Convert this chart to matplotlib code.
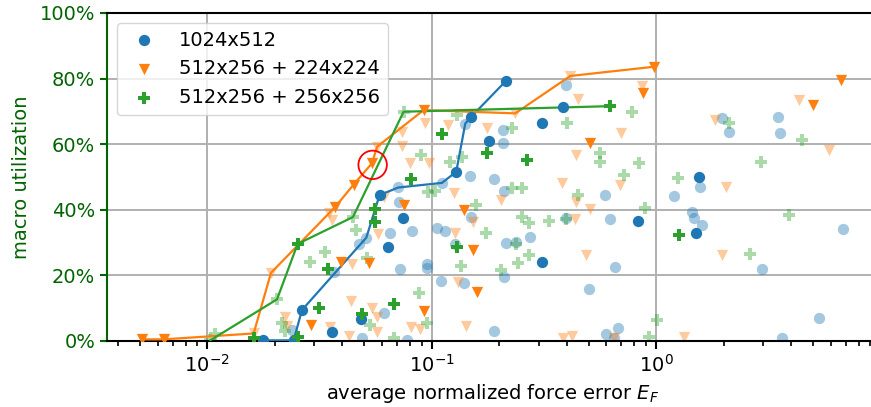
import matplotlib
matplotlib.use('Agg')
import matplotlib.pyplot as plt
from matplotlib.ticker import FuncFormatter

# ---------------- data ----------------
labels = ["1024x512", "512x256 + 224x224", "512x256 + 256x256"]

# series 1: 1024x512
blue_front_x = [0.0177, 0.02423, 0.02641, 0.05108, 0.05853, 0.07094, 0.1110, 0.1285, 0.1410, 0.1500, 0.2147]
blue_front_y = [0.2, 0.2, 9.45, 31.5, 44.5, 46.8, 48.2, 51.6, 66.3, 68.4, 79.4]
blue_dark_x = [0.0177, 0.02423, 0.02641, 0.05853, 0.1285, 0.1500, 0.2147, 0.3097, 0.384, 0.1804,
               0.0744, 0.0636, 0.3097, 0.0484, 0.0359, 1.543, 0.8286, 1.502]
blue_dark_y = [0.2, 0.2, 9.45, 44.5, 51.6, 68.4, 79.4, 66.4, 71.2, 61.1,
               37.4, 28.8, 24.2, 6.6, 2.8, 50.1, 36.6, 32.8]
blue_faded_x = [0.02391, 0.03652, 0.04719, 0.05108, 0.04903, 0.06098, 0.06535, 0.07094, 0.07115, 0.07188,
                0.07753, 0.0816, 0.09519, 0.09519, 0.1058, 0.1145, 0.1094, 0.1263, 0.1410, 0.1484,
                0.1495, 0.1395, 0.1885, 0.1898, 0.2076, 0.2076, 0.2097, 0.2147, 0.2379, 0.2104,
                0.2732, 0.3945, 0.3973, 0.4994, 0.5927, 0.6237, 0.6567, 0.5957, 0.6737, 0.6500,
                1.194, 1.570, 1.442, 1.477, 1.598, 1.962, 2.099, 3.470, 3.567, 6.785,
                2.957, 5.295, 3.630, 0.1110]
blue_faded_y = [3.35, 21.1, 29.6, 31.5, 0.9, 8.4, 32.8, 46.8, 42.5, 21.9,
                0.3, 33.6, 23.6, 22.2, 34.5, 33.6, 18.3, 29.6, 66.3, 50.3,
                37.9, 17.8, 49.4, 3.2, 64.2, 60.4, 45.7, 30.0, 30.2, 19.5,
                31.8, 37.5, 78.0, 15.8, 44.5, 37.3, 22.6, 2.1, 3.9, 0.8,
                44.2, 46.9, 39.2, 37.4, 35.4, 67.9, 63.8, 68.4, 63.3, 34.0,
                21.9, 6.9, 0.8, 48.2]

# series 2: 512x256 + 224x224
orange_front_x = [0.005119, 0.006388, 0.01608, 0.01922, 0.03717, 0.04484, 0.05416, 0.05701, 0.09193, 0.2354, 0.4140, 0.9727]
orange_front_y = [0.5, 0.5, 2.3, 20.8, 40.9, 47.7, 54.2, 59.2, 70.4, 69.4, 80.8, 83.6]
orange_dark_x = [0.005119, 0.006388, 0.03717, 0.04484, 0.05416, 0.09193, 0.9727, 0.02896, 0.0394, 0.0523,
                 0.0754, 0.1385, 0.152, 0.159, 0.0919, 0.5045, 0.8689, 6.668, 4.989]
orange_dark_y = [0.5, 0.5, 40.9, 47.7, 54.2, 70.4, 83.6, 4.9, 24.2, 23.7,
                 41.5, 39.9, 27.7, 15.0, 9.2, 60.3, 75.5, 79.6, 72.0]
orange_faded_x = [0.01608, 0.01922, 0.02226, 0.02272, 0.03495, 0.03593, 0.03531, 0.0426, 0.0441, 0.04379,
                  0.05416, 0.05701, 0.05701, 0.05701, 0.05776, 0.06098, 0.07369, 0.07369, 0.0802, 0.09676,
                  0.09355, 0.1176, 0.1251, 0.1273, 0.1306, 0.1425, 0.08103, 0.08888, 0.1531, 0.1761,
                  0.2035, 0.2354, 0.414, 0.4471, 0.3822, 0.4403, 0.4403, 0.5045, 0.4357, 0.4853,
                  0.6913, 0.6964, 0.8679, 0.3842, 0.4204, 0.648, 1.831, 4.347, 5.855, 2.05,
                  1.962, 1.323]
orange_faded_y = [2.3, 20.8, 7.3, 4.6, 38.9, 36.9, 4.3, 1.5, 23.6, 12.3,
                  10.2, 7.4, 2.6, 59.2, 32.6, 43.8, 63.7, 59.5, 54.2, 54.3,
                  66.6, 65.9, 45.0, 32.8, 17.9, 4.6, 4.3, 3.7, 36.2, 64.8,
                  42.9, 69.4, 80.8, 73.7, 48.3, 56.7, 42.5, 40.2, 37.3, 26.1,
                  47.6, 63.5, 77.7, 0.8, 1.5, 1.0, 67.4, 73.5, 58.2, 46.9,
                  26.2, 1.3]

# series 3: 512x256 + 256x256
green_front_x = [0.01031, 0.02044, 0.02525, 0.04457, 0.07486, 0.6237]
green_front_y = [0.2, 12.7, 29.6, 37.8, 69.9, 71.6]
green_dark_x = [0.02525, 0.03435, 0.03145, 0.04877, 0.056, 0.056, 0.0808, 0.111, 0.1761, 0.2655,
                0.1295, 0.0676, 1.257, 0.6237, 0.02543, 0.01608]
green_dark_y = [29.6, 21.9, 10.0, 8.2, 40.2, 36.4, 49.3, 63.1, 57.2, 55.2,
                28.6, 11.3, 32.3, 71.6, 1.2, 0.9]
green_faded_x = [0.01031, 0.01085, 0.02044, 0.02152, 0.02214, 0.02855, 0.03354, 0.04457, 0.04586, 0.05125,
                 0.05323, 0.0676, 0.07486, 0.0877, 0.0955, 0.08918, 0.1209, 0.1363, 0.129, 0.09602,
                 0.1031, 0.157, 0.1739, 0.1349, 0.204, 0.2277, 0.2277, 0.2523, 0.2523, 0.2699,
                 0.3314, 0.3973, 0.2362, 0.2699, 0.2411, 0.3985, 0.4471, 0.5627, 0.5627, 0.7791,
                 0.715, 0.834, 0.8888, 0.926, 1.013, 1.244, 2.099, 4.47, 2.927, 3.885,
                 2.623]
green_faded_y = [0.2, 2.1, 12.7, 5.6, 2.9, 24.2, 27.2, 37.8, 33.8, 25.4,
                 4.9, 0.8, 69.9, 14.5, 5.6, 56.7, 54.5, 56.1, 68.8, 45.4,
                 45.8, 41.6, 33.0, 22.9, 21.6, 64.8, 46.6, 46.6, 37.8, 36.1,
                 36.7, 37.1, 29.7, 26.1, 23.8, 66.5, 44.4, 57.2, 54.5, 69.9,
                 50.6, 54.2, 40.7, 1.1, 6.3, 49.6, 66.6, 61.2, 54.6, 38.4,
                 26.6]

# highlighted configuration
highlight_x = [0.05451]
highlight_y = [53.7]

# ---------------- plot ----------------
W, H = 871, 407
fig = plt.figure(figsize=(W / 100, H / 100), dpi=100)
ax = fig.add_axes([107 / W, 66 / H, 771 / W, 328 / H])

c_blue, c_orange, c_green = "tab:blue", "tab:orange", "tab:green"
ylab_color = "darkgreen"
ms = 66
fa = 0.4

series = [
    (blue_faded_x, blue_faded_y, blue_front_x, blue_front_y, blue_dark_x, blue_dark_y, c_blue, "o", labels[0]),
    (orange_faded_x, orange_faded_y, orange_front_x, orange_front_y, orange_dark_x, orange_dark_y, c_orange, "v", labels[1]),
    (green_faded_x, green_faded_y, green_front_x, green_front_y, green_dark_x, green_dark_y, c_green, "P", labels[2]),
]

for fx, fy, lx, ly, dx, dy, col, mk, lab in series:
    ax.scatter(fx, fy, s=ms, marker=mk, color=col, alpha=fa, linewidths=0, zorder=2)
for fx, fy, lx, ly, dx, dy, col, mk, lab in series:
    ax.plot(lx, ly, color=col, lw=1.6, zorder=3)
for fx, fy, lx, ly, dx, dy, col, mk, lab in series:
    ax.scatter(dx, dy, s=ms, marker=mk, color=col, linewidths=0, zorder=4, label=lab)

ax.scatter(highlight_x, highlight_y, s=420, marker="o", facecolors="none",
           edgecolors="red", linewidths=1.3, zorder=5)

ax.set_xscale("log")
ax.set_xlim(10 ** -2.447, 10 ** 0.988)
ax.set_ylim(0, 100)
ax.set_yticks([0, 20, 40, 60, 80, 100])
ax.yaxis.set_major_formatter(FuncFormatter(lambda v, p: f"{v:.0f}%"))

ax.grid(True, which="major", color="#b0b0b0", lw=1.4, zorder=0)
ax.set_axisbelow(True)

for s in ["top", "bottom"]:
    ax.spines[s].set_linewidth(1.5)
    ax.spines[s].set_color("black")
ax.spines["left"].set_color(ylab_color)
ax.spines["left"].set_linewidth(1.5)
ax.spines["right"].set_visible(False)

ax.tick_params(axis="y", colors=ylab_color, labelsize=14, length=5, width=1.5)
ax.tick_params(axis="x", which="major", labelsize=14, length=6, width=1.5)
ax.tick_params(axis="x", which="minor", length=3.5, width=1.2)

ax.set_ylabel("macro utilization", fontsize=14, color=ylab_color, labelpad=6)
ax.set_xlabel("average normalized force error $E_F$", fontsize=14)

ax.legend(loc="upper left", fontsize=14)

fig.savefig("out.png", dpi=100)
